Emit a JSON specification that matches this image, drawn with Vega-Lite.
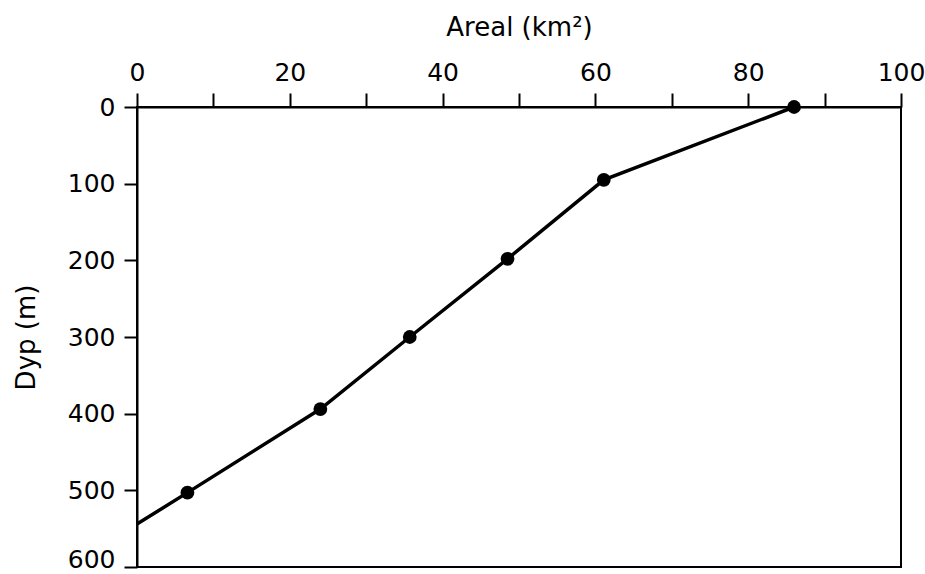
{
  "$schema": "https://vega.github.io/schema/vega-lite/v6.json",
  "width": 764,
  "height": 460,
  "autosize": "none",
  "padding": {"left": 137, "top": 107, "right": 24, "bottom": 7},
  "background": "white",
  "config": {
    "view": {"stroke": "black", "strokeWidth": 2},
    "axis": {
      "grid": false,
      "domainColor": "black",
      "domainWidth": 2,
      "tickColor": "black",
      "tickWidth": 2,
      "labelColor": "black",
      "labelFont": "DejaVu Sans",
      "labelFontSize": 25,
      "titleColor": "black",
      "titleFont": "DejaVu Sans",
      "titleFontSize": 26,
      "titleFontWeight": "normal"
    }
  },
  "data": {
    "values": [
      {"areal": 0, "dyp": 544, "marker": false},
      {"areal": 6.6, "dyp": 503, "marker": true},
      {"areal": 24.0, "dyp": 394, "marker": true},
      {"areal": 35.7, "dyp": 300, "marker": true},
      {"areal": 48.5, "dyp": 198, "marker": true},
      {"areal": 61.1, "dyp": 95, "marker": true},
      {"areal": 86.0, "dyp": 0, "marker": true}
    ]
  },
  "encoding": {
    "x": {
      "field": "areal",
      "type": "quantitative",
      "scale": {"domain": [0, 100], "nice": false},
      "axis": {
        "orient": "top",
        "title": "Areal (km²)",
        "values": [0, 10, 20, 30, 40, 50, 60, 70, 80, 90, 100],
        "labelExpr": "datum.value % 20 === 0 ? datum.label : ''",
        "tickSize": 14,
        "labelPadding": 8,
        "titlePadding": 20,
        "labelFlush": false,
        "labelOverlap": false
      }
    },
    "y": {
      "field": "dyp",
      "type": "quantitative",
      "scale": {"domain": [0, 600], "nice": false, "reverse": true},
      "axis": {
        "title": "Dyp (m)",
        "values": [0, 100, 200, 300, 400, 500, 600],
        "tickSize": 13,
        "labelPadding": 9,
        "labelOffset": {"condition": {"test": "datum.value === 600", "value": -8}, "value": 0},
        "titlePadding": 28,
        "labelFlush": false,
        "labelOverlap": false
      }
    }
  },
  "layer": [
    {
      "mark": {"type": "line", "color": "black", "strokeWidth": 3.5}
    },
    {
      "transform": [{"filter": "datum.marker"}],
      "mark": {"type": "point", "filled": true, "color": "black", "opacity": 1, "size": 190}
    }
  ]
}
